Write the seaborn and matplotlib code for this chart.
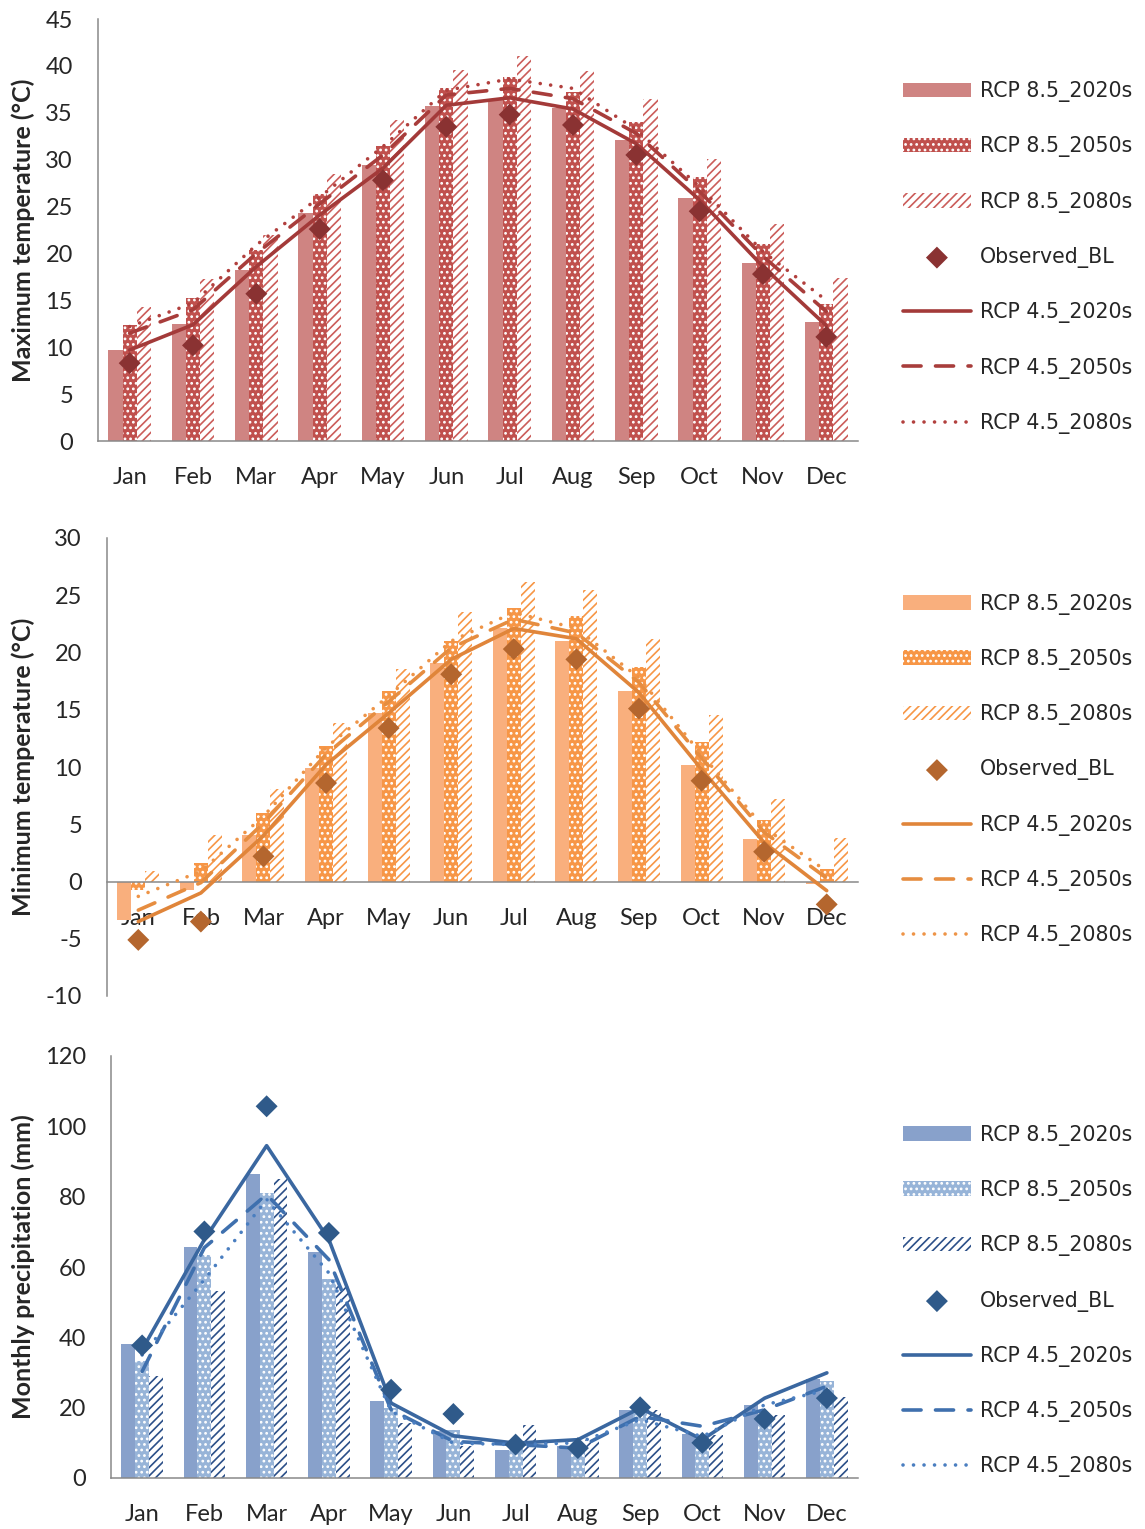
import numpy as np
import pandas as pd
import matplotlib
matplotlib.use('Agg')
import matplotlib.pyplot as plt
import matplotlib.transforms as mtransforms
import seaborn as sns

months = ['Jan', 'Feb', 'Mar', 'Apr', 'May', 'Jun',
          'Jul', 'Aug', 'Sep', 'Oct', 'Nov', 'Dec']
bar_names = ['RCP 8.5_2020s', 'RCP 8.5_2050s', 'RCP 8.5_2080s']
line_names = ['RCP 4.5_2020s', 'RCP 4.5_2050s', 'RCP 4.5_2080s']

# Maximum temperature (°C)
tmax_85_2020 = [9.7, 12.5, 18.2, 24.3, 29.4, 35.7, 36.5, 35.5, 32.1, 25.9, 19.0, 12.7]
tmax_85_2050 = [12.4, 15.2, 20.4, 26.3, 31.5, 37.6, 38.8, 37.2, 34.0, 28.2, 21.0, 14.6]
tmax_85_2080 = [14.3, 17.3, 22.0, 28.5, 34.2, 39.6, 41.1, 39.5, 36.5, 30.1, 23.1, 17.4]
tmax_obs = [8.3, 10.2, 15.7, 22.6, 27.8, 33.5, 34.8, 33.7, 30.5, 24.5, 17.8, 11.1]
tmax_45_2020 = [9.7, 12.4, 18.6, 24.1, 29.1, 35.8, 36.6, 35.4, 31.7, 25.7, 18.6, 12.3]
tmax_45_2050 = [11.5, 14.0, 20.0, 25.3, 30.5, 36.9, 37.6, 36.5, 32.8, 26.6, 19.7, 13.8]
tmax_45_2080 = [12.2, 14.7, 20.9, 26.0, 31.4, 37.4, 38.6, 37.6, 33.2, 27.1, 20.2, 15.0]

# Minimum temperature (°C)
tmin_85_2020 = [-3.4, -0.7, 4.1, 9.9, 14.7, 19.1, 22.1, 21.0, 16.6, 10.2, 3.7, -0.2]
tmin_85_2050 = [-0.7, 1.6, 6.0, 11.8, 16.6, 21.0, 23.9, 23.2, 18.7, 12.2, 5.4, 1.1]
tmin_85_2080 = [0.9, 4.1, 8.1, 13.8, 18.6, 23.5, 26.2, 25.5, 21.2, 14.5, 7.2, 3.8]
tmin_obs = [-5.1, -3.5, 2.2, 8.6, 13.4, 18.1, 20.3, 19.4, 15.1, 8.8, 2.6, -2.0]
tmin_45_2020 = [-3.5, -1.0, 4.0, 10.2, 14.7, 19.4, 22.1, 21.2, 16.5, 9.8, 3.4, -0.8]
tmin_45_2050 = [-2.5, -0.1, 5.1, 11.1, 15.7, 20.4, 22.9, 21.7, 17.4, 10.8, 4.3, 0.3]
tmin_45_2080 = [-1.3, 0.9, 5.7, 11.7, 16.2, 21.0, 23.5, 22.1, 17.8, 11.1, 4.7, 0.9]

# Monthly precipitation (mm)
prec_85_2020 = [38.1, 65.7, 86.4, 64.4, 22.0, 13.5, 8.0, 9.0, 19.4, 12.6, 20.8, 28.2]
prec_85_2050 = [33.4, 63.5, 81.0, 56.6, 19.9, 13.7, 9.0, 8.5, 18.9, 11.8, 18.0, 27.7]
prec_85_2080 = [29.1, 53.1, 85.1, 54.5, 15.6, 9.2, 15.2, 10.9, 19.4, 12.3, 18.0, 23.0]
prec_obs = [37.7, 70.1, 105.7, 69.7, 25.1, 18.2, 9.5, 8.5, 20.1, 10.0, 16.8, 22.7]
prec_45_2020 = [36.5, 67.8, 94.5, 67.8, 21.3, 12.0, 9.9, 10.9, 19.9, 10.9, 22.7, 29.9]
prec_45_2050 = [30.3, 65.5, 80.6, 62.1, 19.4, 10.4, 9.5, 8.5, 17.5, 14.7, 19.4, 26.1]
prec_45_2080 = [35.0, 56.4, 79.2, 58.3, 19.0, 9.9, 9.5, 10.0, 16.6, 11.8, 20.8, 25.0]

sns.set_style('white')
plt.rcParams['font.family'] = ['Lato', 'DejaVu Sans']
plt.rcParams['axes.unicode_minus'] = False
plt.rcParams['hatch.linewidth'] = 1.2

GRAY = '#898989'
W, H = 1145, 1529


def draw_panel(fig, rect, bars, obs, lines, colors, ylabel, ylim, yticks, label_x, legend_y):
    ax = fig.add_axes(rect)
    df = pd.DataFrame({
        'month': months * 3,
        'value': bars[0] + bars[1] + bars[2],
        'series': np.repeat(bar_names, 12),
    })
    sns.barplot(data=df, x='month', y='value', hue='series', order=months,
                hue_order=bar_names, palette=[colors['b20'], colors['b50'], 'white'],
                width=0.67, gap=0, saturation=1, errorbar=None, legend=False, ax=ax)
    c20, c50, c80 = ax.containers[:3]
    for p in c20:
        p.set_facecolor(colors['b20'])
        p.set_edgecolor(colors['b20'])
        p.set_linewidth(0)
    for p in c50:
        p.set_facecolor(colors['b50'])
        p.set_edgecolor('white')
        p.set_hatch('...')
        p.set_linewidth(0)
    for p in c80:
        p.set_facecolor('white')
        p.set_edgecolor(colors['b80'])
        p.set_hatch('////')
        p.set_linewidth(0)

    # RCP 4.5 lines
    styles = ['-', (0, (5.0, 4.0)), (0, (0.01, 2.9))]
    line_handles = []
    for vals, name, ls, col in zip(lines, line_names, styles, colors['lines']):
        sns.lineplot(x=months, y=vals, color=col, sort=False, zorder=3,
                     legend=False, ax=ax)
        ln = ax.lines[-1]
        ln.set_linewidth(2.6)
        ln.set_linestyle(ls)
        ln.set_dash_capstyle('round')
        ln.set_solid_capstyle('round')
        line_handles.append(ln)

    sns.scatterplot(x=months, y=obs, marker='D', s=125, color=colors['obs'],
                    edgecolor='none', linewidth=0, zorder=4, legend=False, ax=ax)
    obs_handle = ax.collections[-1]

    ax.set_xlim(-0.5, 11.5)
    ax.set_ylim(*ylim)
    ax.set_yticks(yticks)
    ax.set_xlabel('')
    ax.set_ylabel(ylabel, fontsize=18, fontweight='bold')
    ax.yaxis.set_label_coords(label_x / W, 0.5,
                              transform=mtransforms.blended_transform_factory(fig.transFigure, ax.transAxes))

    for s in ['top', 'right']:
        ax.spines[s].set_visible(False)
    for s in ['left', 'bottom']:
        ax.spines[s].set_color(GRAY)
        ax.spines[s].set_linewidth(1.1)
    ax.spines['bottom'].set_position(('data', 0))

    ax.set_xticks(np.arange(-0.5, 12, 1), minor=True)
    ax.tick_params(axis='x', which='major', length=0, pad=19, labelsize=17)
    ax.tick_params(axis='x', which='minor', length=6, width=1.1, color=GRAY, direction='out')
    ax.tick_params(axis='y', which='major', length=6, width=1.1, color=GRAY,
                   direction='out', pad=12, labelsize=17)
    ax.grid(False)

    handles = [c20, c50, c80, obs_handle] + line_handles
    labels = bar_names + ['Observed_BL'] + line_names
    ax.legend(handles, labels, loc='center left',
              bbox_to_anchor=(903 / W, 1 - legend_y / H), bbox_transform=fig.transFigure,
              frameon=False, borderpad=0, borderaxespad=0, handlelength=3.3,
              handleheight=0.7, handletextpad=0.45, labelspacing=1.67,
              prop={'family': 'DejaVu Sans', 'size': 14.8})
    return ax


fig = plt.figure(figsize=(W / 100, H / 100), dpi=100)

red = {'b20': '#CF8482', 'b50': '#C0504D', 'b80': '#CB5D5A',
       'lines': ['#A33A39', '#A83D3B', '#B2403E'], 'obs': '#8A3232'}
orange = {'b20': '#F9AF7D', 'b50': '#F79646', 'b80': '#F79646',
          'lines': ['#E0853A', '#E68D40', '#EE9447'], 'obs': '#B4662E'}
blue = {'b20': '#88A1CB', 'b50': '#97B4D8', 'b80': '#2B4F88',
        'lines': ['#3A67A0', '#3F70AE', '#4A7EC0'], 'obs': '#2F5A8A'}

draw_panel(fig, [98 / W, 1 - 441 / H, 760 / W, 422 / H],
           [tmax_85_2020, tmax_85_2050, tmax_85_2080], tmax_obs,
           [tmax_45_2020, tmax_45_2050, tmax_45_2080], red,
           'Maximum temperature (°C)', (0, 45), np.arange(0, 46, 5), 35, 257.5)

draw_panel(fig, [107 / W, 1 - 996 / H, 751 / W, 458 / H],
           [tmin_85_2020, tmin_85_2050, tmin_85_2080], tmin_obs,
           [tmin_45_2020, tmin_45_2050, tmin_45_2080], orange,
           'Minimum temperature (°C)', (-10, 30), np.arange(-10, 31, 5), 35, 770)

draw_panel(fig, [111 / W, 1 - 1478 / H, 747 / W, 422 / H],
           [prec_85_2020, prec_85_2050, prec_85_2080], prec_obs,
           [prec_45_2020, prec_45_2050, prec_45_2080], blue,
           'Monthly precipitation (mm)', (0, 120), np.arange(0, 121, 20), 35, 1301)

fig.savefig('out.png', dpi=100)
